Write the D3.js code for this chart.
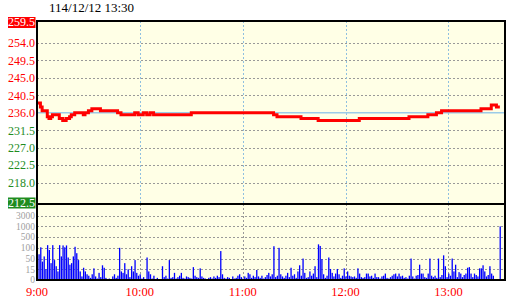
<!DOCTYPE html>
<html><head><meta charset="utf-8">
<script src="https://cdn.jsdelivr.net/npm/d3@7"></script>
<style>body{margin:0;background:#fff}svg{display:block}</style>
</head><body><svg id="c" width="520" height="300"></svg>
<script>
const title = "114/12/12 13:30";
const priceTicks = [259.5, 254.0, 249.5, 245.0, 240.5, 236.0, 231.5, 227.0, 222.5, 218.0, 212.5];
const prevClose = 236.0;
const volTicks = [0, 15, 50, 100, 500, 1000, 3000];
const timeLabels = ["9:00", "10:00", "11:00", "12:00", "13:00"];
const timeTickMinutes = [0, 60, 120, 180, 240];
// price change points (minutes after 9:00) and price
const priceTimes = [0, 2, 3, 6, 7, 8, 9, 13, 15, 17, 19, 20, 22, 27, 28, 30, 32, 37, 47, 49, 57, 59, 62, 64, 66, 68, 90, 138, 140, 154, 164, 188, 217, 228, 233, 236, 259, 265, 268, 270];
const prices =     [238.5, 237.5, 236.5, 235, 234.5, 235, 235.5, 234.5, 234, 234.5, 235, 235.5, 236, 235.5, 236, 236.5, 237, 236.5, 236, 235.5, 236, 235.5, 236, 235.5, 236, 235.5, 236, 235.5, 235, 234.5, 234, 234.5, 235, 235.5, 236, 236.5, 237, 238, 237.5, 237.5];
// volume per minute, 9:00 .. 13:30
const volumes = [
 200, 70, 120, 40, 60, 15, 200, 90, 35, 200,
 45, 25, 12, 200, 60, 190, 120, 190, 55, 30,
 35, 60, 140, 75, 45, 12, 5, 20, 12, 8,
 6, 3, 8, 18, 5, 2, 10, 4, 28, 20,
 3, 0, 2, 0, 5, 8, 3, 6, 100, 12,
 10, 35, 8, 15, 4, 25, 12, 45, 10, 6,
 8, 2, 4, 0, 55, 12, 8, 2, 6, 0,
 3, 1, 0, 25, 4, 6, 2, 45, 3, 4,
 10, 2, 4, 6, 10, 3, 2, 5, 4, 3,
 2, 22, 6, 4, 3, 18, 5, 3, 2, 0,
 3, 4, 2, 5, 3, 6, 4, 85, 8, 3,
 2, 4, 3, 1, 5, 2, 3, 6, 8, 4,
 2, 5, 3, 10, 8, 3, 6, 4, 14, 5,
 3, 6, 2, 4, 7, 10, 5, 8, 160, 4,
 6, 100, 8, 5, 3, 6, 10, 4, 20, 6,
 8, 3, 12, 28, 6, 50, 10, 3, 4, 12,
 6, 9, 25, 4, 230, 170, 48, 8, 3, 6,
 55, 16, 10, 5, 9, 16, 8, 3, 6, 18,
 5, 12, 6, 5, 4, 5, 3, 18, 9, 4,
 3, 4, 9, 9, 5, 6, 3, 9, 4, 4,
 2, 5, 6, 9, 3, 2, 4, 6, 8, 9,
 5, 9, 5, 6, 3, 4, 2, 6, 50, 5,
 2, 6, 7, 30, 9, 9, 4, 3, 9, 50,
 6, 4, 6, 3, 50, 4, 7, 65, 25, 4,
 9, 6, 50, 12, 30, 4, 11, 9, 4, 7,
 9, 20, 22, 9, 4, 9, 7, 5, 18, 18,
 28, 12, 5, 7, 25, 9, 6, 0, 0, 0,
 1000
];

const svg = d3.select("#c");
const L = 37, R = 505, T = 21, MID = 204, B = 280;
const FONT = "'Liberation Serif', 'DejaVu Serif', serif";
const RED = "#ff0000", GREEN = "#1f8c1f";

const x = d3.scaleLinear().domain([0, 273]).range([L, R]);
const yP = d3.scaleLinear().domain([212.5, 259.5]).range([MID, T + 0.5]);
const yV = d3.scaleLinear().domain(volTicks).range(volTicks.map((d, i) => B - i * 10.72));

svg.append("rect").attr("x", L).attr("y", T).attr("width", R - L).attr("height", B - T).attr("fill", "#ffffe6");

// price grid
svg.append("g").selectAll("line").data(priceTicks.filter(d => d !== 259.5 && d !== 212.5 && d !== prevClose))
  .join("line").attr("x1", L).attr("x2", R).attr("y1", d => Math.round(yP(d)) + 0.5).attr("y2", d => Math.round(yP(d)) + 0.5)
  .attr("stroke", "#999").attr("stroke-width", 1).attr("stroke-dasharray", "2,2");
// volume grid
svg.append("g").selectAll("line").data(volTicks.filter(d => d > 0))
  .join("line").attr("x1", L).attr("x2", R).attr("y1", d => Math.round(yV(d)) + 0.5).attr("y2", d => Math.round(yV(d)) + 0.5)
  .attr("stroke", "#999").attr("stroke-width", 1).attr("stroke-dasharray", "2,2");
// vertical grid
const vt = timeTickMinutes.filter(d => d > 0);
svg.append("g").selectAll("line").data(vt).join("line")
  .attr("x1", d => Math.round(x(d)) + 0.5).attr("x2", d => Math.round(x(d)) + 0.5).attr("y1", T).attr("y2", MID)
  .attr("stroke", "#8fc0e0").attr("stroke-width", 1).attr("stroke-dasharray", "2,2");
svg.append("g").selectAll("line").data(vt).join("line")
  .attr("x1", d => Math.round(x(d)) + 0.5).attr("x2", d => Math.round(x(d)) + 0.5).attr("y1", MID).attr("y2", B)
  .attr("stroke", "#999").attr("stroke-width", 1).attr("stroke-dasharray", "2,2");
// previous close line
svg.append("line").attr("x1", L).attr("x2", R).attr("y1", yP(prevClose)).attr("y2", yP(prevClose))
  .attr("stroke", "#9ccbe8").attr("stroke-width", 1.5);

// volume bars
svg.append("g").selectAll("rect").data(volumes).join("rect")
  .attr("x", (d, i) => x(i) - 0.3).attr("width", 1.3)
  .attr("y", d => yV(d)).attr("height", d => B - yV(d))
  .attr("fill", "#0000ff");

// price line
const pts = priceTimes.map((t, i) => [t, prices[i]]);
svg.append("path").datum(pts)
  .attr("d", d3.line().x(d => x(d[0])).y(d => yP(d[1])).curve(d3.curveStepAfter))
  .attr("fill", "none").attr("stroke", RED).attr("stroke-width", 3);

// borders
svg.append("rect").attr("x", L).attr("y", T).attr("width", R - L).attr("height", B - T)
  .attr("fill", "none").attr("stroke", "#000").attr("stroke-width", 2);
svg.append("line").attr("x1", L).attr("x2", R).attr("y1", MID).attr("y2", MID).attr("stroke", "#000").attr("stroke-width", 2);

// title
svg.append("text").attr("x", 49).attr("y", 12).attr("font-family", FONT).attr("font-size", 13).attr("fill", "#000").text(title);

// price labels
priceTicks.forEach(p => {
  const top = p === 259.5, bot = p === 212.5;
  let cy = yP(p);
  if (top) cy = T + 1;
  if (bot) cy = MID - 1.5;
  const col = p >= prevClose ? RED : GREEN;
  if (top || bot) {
    svg.append("rect").attr("x", 8).attr("y", cy - 5).attr("width", 27.5).attr("height", 11).attr("fill", col);
  }
  svg.append("text").attr("x", 35).attr("y", cy).attr("dy", "0.36em").attr("text-anchor", "end")
    .attr("font-family", FONT).attr("font-size", 12).attr("fill", (top || bot) ? "#fff" : col).text(p.toFixed(1));
});

// volume labels
volTicks.forEach(v => {
  svg.append("text").attr("x", 35).attr("y", v === 0 ? B - 0.5 : yV(v)).attr("dy", "0.34em").attr("text-anchor", "end")
    .attr("font-family", FONT).attr("font-size", 9.5).attr("fill", "#a0a0a0").text(v);
});

// time labels
timeTickMinutes.forEach((m, i) => {
  svg.append("text").attr("x", x(m)).attr("y", 296).attr("text-anchor", "middle")
    .attr("font-family", FONT).attr("font-size", 12.5).attr("fill", RED).text(timeLabels[i]);
});
</script>
</body></html>
